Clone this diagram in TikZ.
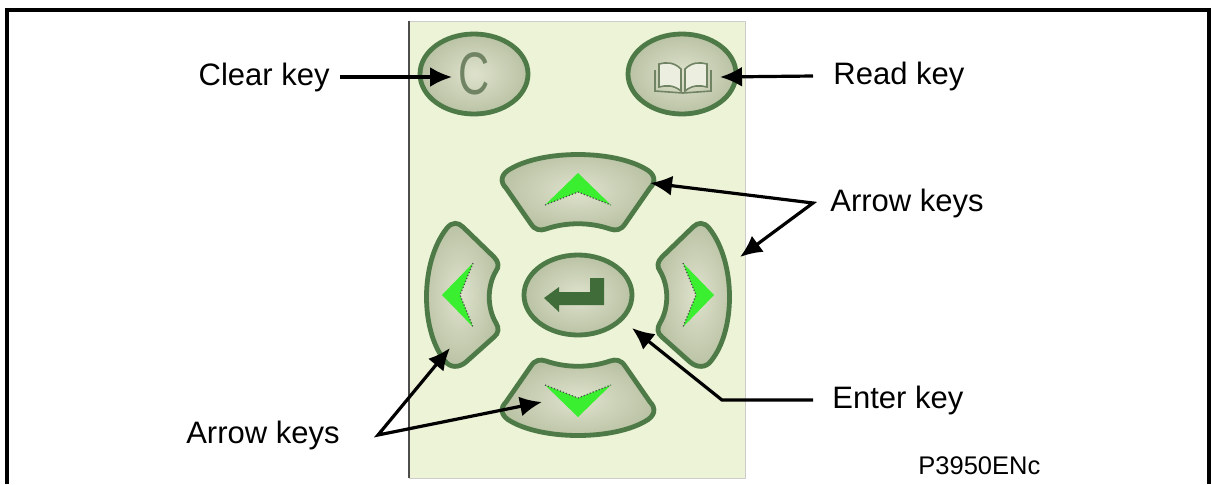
\documentclass[tikz,border=0pt]{standalone}
\usepackage{fontspec}
\setmainfont{Liberation Sans}
\usetikzlibrary{arrows.meta,shapes.geometric}

\definecolor{panel}{RGB}{236,243,214}
\definecolor{keyfill}{RGB}{186,194,164}
\definecolor{keyhi}{RGB}{222,226,204}
\definecolor{keyline}{RGB}{78,122,72}
\definecolor{arrowgreen}{RGB}{58,238,48}
\definecolor{entergreen}{RGB}{64,108,58}
\definecolor{glyph}{RGB}{112,132,100}
\definecolor{page}{RGB}{236,238,224}

\begin{document}
\begin{tikzpicture}[x=0.5pt, y=-0.5pt,
    >={Latex[length=11pt,width=10pt]},
    lbl/.style={font=\fontsize{15.5}{18}\selectfont, inner sep=0pt},
    callout/.style={line width=1.6pt},
    padkey/.style={draw=keyline, line width=2.4pt, inner color=keyhi, outer color=keyfill},
    roundkey/.style={padkey, ellipse, minimum width=54pt, minimum height=40pt, inner sep=0pt},
    chevedge/.style={draw=black!70, densely dotted, line width=0.6pt},
    vkey/.pic={
      \path[padkey] (-66,-127) .. controls (-33,-145) and (33,-145) .. (66,-127)
        .. controls (78,-121) and (78,-113) .. (72,-107) -- (47,-71)
        .. controls (43,-65) and (38,-64) .. (32,-66)
        .. controls (12,-73) and (-12,-73) .. (-32,-66)
        .. controls (-38,-64) and (-43,-65) .. (-47,-71) -- (-72,-107)
        .. controls (-78,-113) and (-78,-121) .. (-66,-127) -- cycle;
      \fill[arrowgreen] (0,-122) -- (33,-90) -- (0,-103) -- (-33,-90) -- cycle;
      \draw[chevedge] (-33,-90) -- (0,-103) -- (33,-90);
    },
    hkey/.pic={
      \path[padkey] (-131,-67) .. controls (-126,-73) and (-120,-73) .. (-115,-68) -- (-84,-38)
        .. controls (-79,-33) and (-79,-28) .. (-82,-24)
        .. controls (-91,-9) and (-91,13) .. (-82,28)
        .. controls (-79,33) and (-79,38) .. (-84,42) -- (-112,67)
        .. controls (-119,73) and (-128,73) .. (-133,66)
        .. controls (-158,35) and (-158,-33) .. (-131,-67) -- cycle;
      \fill[arrowgreen] (-136,0) -- (-105,-32) -- (-118,0) -- (-105,32) -- cycle;
      \draw[chevedge] (-105,-32) -- (-118,0) -- (-105,32);
    }
  ]
  \useasboundingbox (0,0) rectangle (1211,484);
  \draw[line width=2pt] (7,484) -- (7,9.5) -- (1209,9.5) -- (1209,484);

  \filldraw[fill=panel, draw=black!20, line width=0.5pt] (409,21) rectangle (745,478);
  \draw[black!70, line width=0.6pt] (409,21) -- (409,478);

  \coordinate (pad) at (578,295);
  \pic at (pad) {vkey};
  \pic[yscale=-1] at (pad) {vkey};
  \pic at (pad) {hkey};
  \pic[xscale=-1] at (pad) {hkey};

  \node[roundkey] (enter) at (pad) {};
  \fill[entergreen, shift={(enter.center)}] (-34,3) -- (-19,-8) -- (-19,-3) -- (12,-3)
    -- (12,-17) -- (26,-17) -- (26,10) -- (-19,10) -- (-19,17) -- cycle;

  \node[roundkey, text=glyph, font=\fontsize{30}{32}\selectfont] (clear) at (474,74) {\scalebox{0.72}[1]{C}};
  \node[roundkey] (read) at (682,74) {};
  \begin{scope}[shift={(read.center)}, draw=glyph, line width=0.8pt]
    \draw (-27,-4) -- (-27,17) -- (1,19) -- (29,17) -- (29,-4);
    \filldraw[fill=page] (-1,-5) .. controls (-8,-12) and (-16,-12) .. (-23,-10) -- (-23,13)
      .. controls (-16,11) and (-8,11) .. (-1,17) -- cycle;
    \filldraw[fill=page] (3,-5) .. controls (10,-12) and (18,-12) .. (25,-10) -- (25,13)
      .. controls (18,11) and (10,11) .. (3,17) -- cycle;
  \end{scope}

  \node[lbl, anchor=east] (clearlbl) at (330,77) {Clear key};
  \node[lbl, anchor=west] (readlbl) at (833,76) {Read key};
  \node[lbl, anchor=west] (arrowrlbl) at (830,203) {Arrow keys};
  \node[lbl, anchor=west] (enterlbl) at (832,400) {Enter key};
  \node[lbl, anchor=east] (arrowllbl) at (340,435) {Arrow keys};
  \node[lbl, anchor=west, font=\fontsize{12.75}{15}\selectfont] (figcode) at (918,466) {P3950ENc};

  \coordinate (cleartip) at (452,77);
  \coordinate (readtip) at (720,77);
  \coordinate (uptip) at (650,183);
  \coordinate (righttip) at (740,257);
  \coordinate (lefttip) at (450,348);
  \coordinate (downtip) at (542,402);
  \coordinate (entertip) at (632,328);

  \draw[callout, ->] ([xshift=5pt]clearlbl.east) -- (cleartip);
  \draw[callout, ->] ([xshift=-10pt]readlbl.west) -- (readtip);
  \draw[callout, <->] (uptip) -- ([xshift=-8.5pt]arrowrlbl.west) -- (righttip);
  \draw[callout, ->] ([xshift=-9.5pt]enterlbl.west) -- ++(-91,0) -- (entertip);
  \draw[callout, <->] (lefttip) -- ([xshift=19pt]arrowllbl.east) -- (downtip);
\end{tikzpicture}
\end{document}
